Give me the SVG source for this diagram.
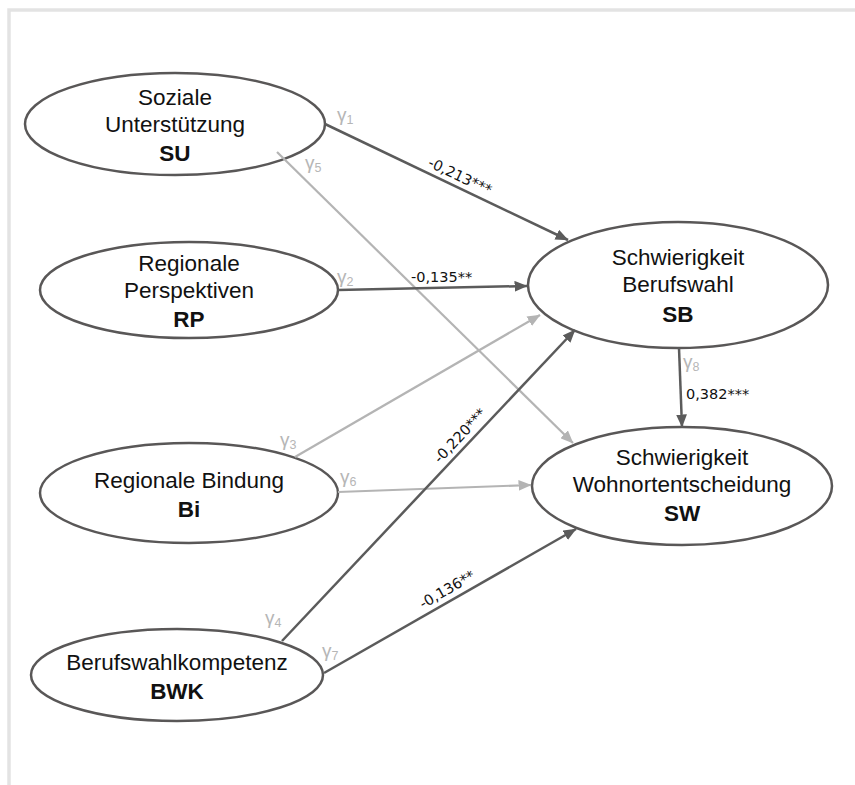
<svg xmlns="http://www.w3.org/2000/svg" width="855" height="785" viewBox="0 0 855 785">
  <defs>
    <marker id="headDark" viewBox="0 0 12 10" refX="11.5" refY="5" markerWidth="13" markerHeight="11" markerUnits="userSpaceOnUse" orient="auto">
      <path d="M0,0 L12,5 L0,10 Z" fill="#5b5b5b"/>
    </marker>
    <marker id="headLight" viewBox="0 0 12 10" refX="11.5" refY="5" markerWidth="13" markerHeight="11" markerUnits="userSpaceOnUse" orient="auto">
      <path d="M0,0 L12,5 L0,10 Z" fill="#b4b4b4"/>
    </marker>
    <style>
      .frame { fill: none; stroke: #e3e3e3; stroke-width: 3.5; }
      .node ellipse { fill: #ffffff; stroke: #595757; stroke-width: 2.5; }
      .name { font-family: "Liberation Sans", Arial, sans-serif; font-size: 22.5px; fill: #111111; text-anchor: middle; }
      .abbr { font-family: "Liberation Sans", Arial, sans-serif; font-size: 22.5px; font-weight: bold; fill: #111111; text-anchor: middle; }
      .dark { fill: none; stroke: #5b5b5b; stroke-width: 2.5; marker-end: url(#headDark); }
      .light { fill: none; stroke: #b4b4b4; stroke-width: 2.2; marker-end: url(#headLight); }
      .gamma { font-family: "Liberation Sans", Arial, sans-serif; font-size: 19px; fill: #b6b6b6; }
      .gamma tspan { font-size: 12.5px; }
      .coef { font-family: "DejaVu Sans", "Liberation Sans", sans-serif; font-size: 14.5px; fill: #111111; }
    </style>
  </defs>

  <rect width="855" height="785" fill="#ffffff"/>
  <path class="frame" d="M9,785 V10 H855"/>

  <!-- constructs -->
  <g id="SU" class="node">
    <ellipse cx="175" cy="124" rx="150" ry="51"/>
    <text class="name" x="175" y="105">Soziale</text>
    <text class="name" x="175" y="132">Unterstützung</text>
    <text class="abbr" x="175" y="161">SU</text>
  </g>

  <g id="RP" class="node">
    <ellipse cx="189" cy="290" rx="149" ry="48"/>
    <text class="name" x="189" y="271">Regionale</text>
    <text class="name" x="189" y="298">Perspektiven</text>
    <text class="abbr" x="189" y="327">RP</text>
  </g>

  <g id="Bi" class="node">
    <ellipse cx="189" cy="493" rx="149" ry="50"/>
    <text class="name" x="189" y="488">Regionale Bindung</text>
    <text class="abbr" x="189" y="517">Bi</text>
  </g>

  <g id="BWK" class="node">
    <ellipse cx="177" cy="675" rx="146" ry="46"/>
    <text class="name" x="177" y="670">Berufswahlkompetenz</text>
    <text class="abbr" x="177" y="699">BWK</text>
  </g>

  <g id="SB" class="node">
    <ellipse cx="678" cy="285" rx="150" ry="63"/>
    <text class="name" x="678" y="265">Schwierigkeit</text>
    <text class="name" x="678" y="292">Berufswahl</text>
    <text class="abbr" x="678" y="322">SB</text>
  </g>

  <g id="SW" class="node">
    <ellipse cx="682" cy="486" rx="150" ry="59"/>
    <text class="name" x="682" y="465">Schwierigkeit</text>
    <text class="name" x="682" y="492">Wohnortentscheidung</text>
    <text class="abbr" x="682" y="521">SW</text>
  </g>

  <!-- structural paths with coefficients -->
  <g id="connectors">
    <line class="dark" x1="325" y1="124" x2="568" y2="240"/>
    <line class="light" x1="277" y1="152" x2="573" y2="443"/>
    <line class="dark" x1="338" y1="290" x2="527" y2="286"/>
    <line class="light" x1="295" y1="457" x2="540" y2="315"/>
    <line class="light" x1="338" y1="492" x2="531" y2="485"/>
    <line class="dark" x1="282" y1="641" x2="575" y2="330"/>
    <line class="dark" x1="324" y1="673" x2="576" y2="529"/>
    <line class="dark" x1="679" y1="348" x2="682" y2="427"/>

    <text class="gamma" x="337" y="121">γ<tspan dy="3">1</tspan></text>
    <text class="gamma" x="305" y="169">γ<tspan dy="3">5</tspan></text>
    <text class="gamma" x="337" y="283">γ<tspan dy="3">2</tspan></text>
    <text class="gamma" x="280" y="446">γ<tspan dy="3">3</tspan></text>
    <text class="gamma" x="340" y="483">γ<tspan dy="3">6</tspan></text>
    <text class="gamma" x="265" y="624">γ<tspan dy="3">4</tspan></text>
    <text class="gamma" x="322" y="657">γ<tspan dy="3">7</tspan></text>
    <text class="gamma" x="683" y="368">γ<tspan dy="3">8</tspan></text>

    <text class="coef" transform="translate(427,166) rotate(25.5)">-0,213***</text>
    <text class="coef" x="411" y="282">-0,135**</text>
    <text class="coef" transform="translate(440,464) rotate(-46.6)">-0,220***</text>
    <text class="coef" transform="translate(423,609) rotate(-29.8)">-0,136**</text>
    <text class="coef" x="686" y="399">0,382***</text>
  </g>
</svg>
